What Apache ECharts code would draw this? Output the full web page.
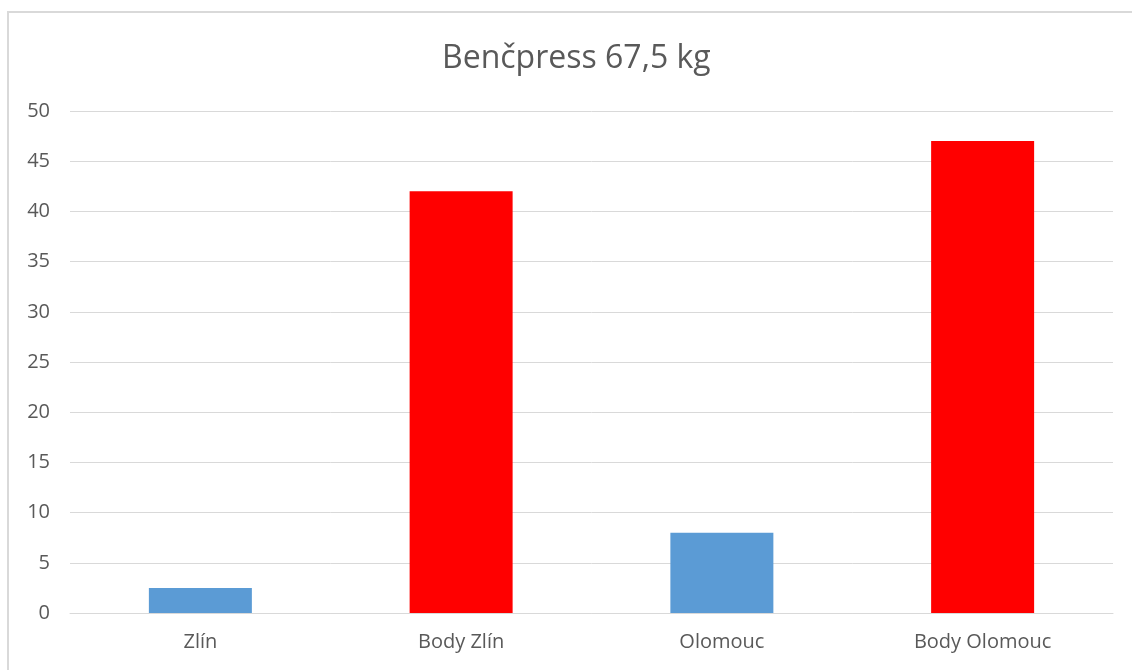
<!DOCTYPE html>
<html>
<head>
<meta charset="utf-8">
<script src="https://cdn.jsdelivr.net/npm/echarts@6/dist/echarts.min.js"></script>
<style>
  html, body { margin: 0; padding: 0; background: #fff; }
  #frame {
    position: absolute; left: 7px; top: 11px; width: 1140px; height: 680px;
    border: 2px solid #d9d9d9; box-sizing: border-box;
  }
  #chart { position: absolute; left: 0; top: 0; width: 1132px; height: 670px; }
</style>
</head>
<body>
<div id="frame"></div>
<div id="chart"></div>
<script>
// Bench press results, 67.5 kg class
const categories = ['Zlín', 'Body Zlín', 'Olomouc', 'Body Olomouc'];
const values = [2.5, 42, 8, 47];
const barColors = ['#5B9BD5', '#FF0000', '#5B9BD5', '#FF0000'];
const yTicks = { min: 0, max: 50, interval: 5 };

const chart = echarts.init(document.getElementById('chart'), null, { renderer: 'canvas' });
const font = "'Open Sans', 'Noto Sans', sans-serif";

chart.setOption({
  backgroundColor: 'transparent',
  animation: false,
  title: {
    text: 'Benčpress 67,5 kg',
    left: 437,
    top: 38,
    textStyle: { fontFamily: font, fontSize: 32, fontWeight: 'normal', color: '#595959' }
  },
  grid: { left: 70, right: 19, top: 111, bottom: 57, containLabel: false },
  xAxis: {
    type: 'category',
    data: categories,
    axisLine: { show: true, lineStyle: { color: '#d9d9d9', width: 1 } },
    axisTick: { show: false },
    axisLabel: { fontFamily: font, fontSize: 20, color: '#595959', margin: 19 }
  },
  yAxis: {
    type: 'value',
    min: yTicks.min,
    max: yTicks.max,
    interval: yTicks.interval,
    axisLine: { show: false },
    axisTick: { show: false },
    axisLabel: { fontFamily: font, fontSize: 20, color: '#595959', margin: 20 },
    splitLine: { lineStyle: { color: '#d9d9d9', width: 1 } }
  },
  series: [{
    type: 'bar',
    barWidth: '39.5%',
    data: values.map((v, i) => ({ value: v, itemStyle: { color: barColors[i] } }))
  }]
});
</script>
</body>
</html>
